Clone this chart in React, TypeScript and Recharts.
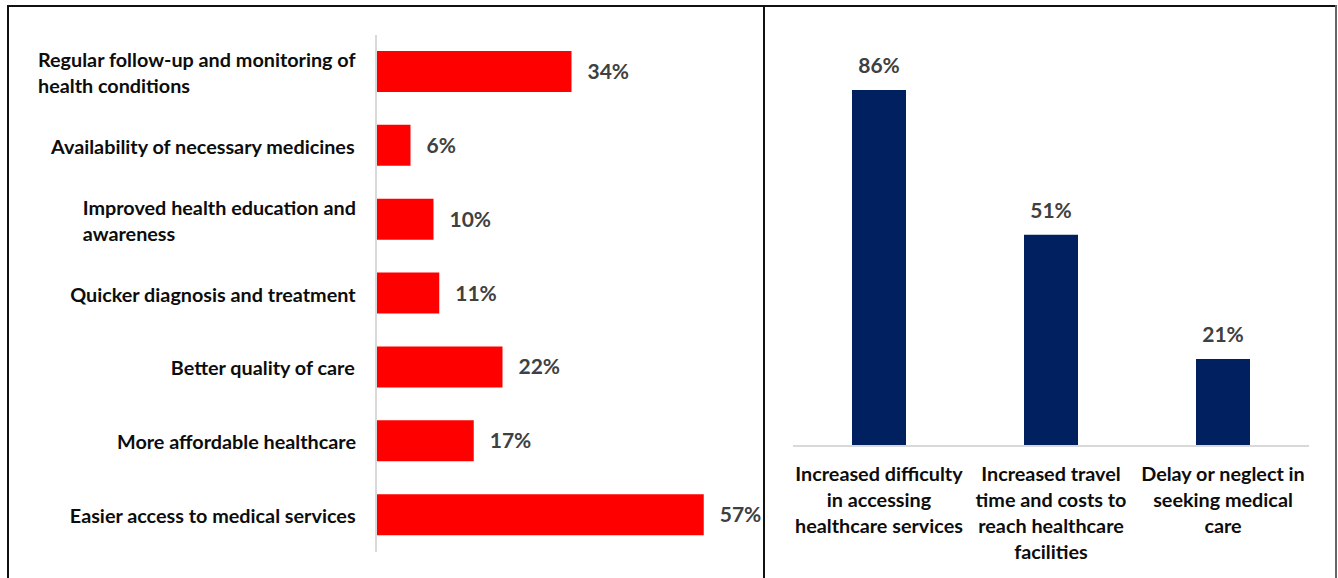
import { BarChart, Bar, XAxis, YAxis, LabelList } from "recharts";

const improvementLabels = [
  "Regular follow-up and monitoring of\nhealth conditions",
  "Availability of necessary medicines",
  "Improved health education and\nawareness",
  "Quicker diagnosis and treatment",
  "Better quality of care",
  "More affordable healthcare",
  "Easier access to medical services",
];
const improvementValues = [34, 6, 10, 11, 22, 17, 57];

const impactLabels = [
  "Increased difficulty\nin accessing\nhealthcare services",
  "Increased travel\ntime and costs to\nreach healthcare\nfacilities",
  "Delay or neglect in\nseeking medical\ncare",
];
const impactValues = [86, 51, 21];

const FONT = "Lato, 'Open Sans', sans-serif";
const LABEL_SIZE = 19.8;
const LABEL_FONT = `bold ${LABEL_SIZE}px Lato`;

const leftData = improvementLabels.map((name, i) => ({ name, value: improvementValues[i] }));
const rightData = impactLabels.map((name, i) => ({ name, value: impactValues[i] }));

let canvas: HTMLCanvasElement | null = null;
const measure = (s: string) => {
  if (!canvas) canvas = document.createElement("canvas");
  const ctx = canvas.getContext("2d")!;
  ctx.font = LABEL_FONT;
  return ctx.measureText(s).width;
};

const LeftTick = (props: any) => {
  const { x, y, payload } = props;
  const lines = String(payload.value).split("\n");
  const w = Math.max(...lines.map(measure));
  const lh = 26;
  const startY = y - ((lines.length - 1) * lh) / 2;
  const left = x - 12 - w;
  return (
    <text
      x={left}
      y={startY}
      textAnchor="start"
      dominantBaseline="central"
      fontFamily={FONT}
      fontWeight="bold"
      fontSize={LABEL_SIZE}
      fill="#0d0d0d"
    >
      {lines.map((l, i) => (
        <tspan key={i} x={left} y={startY + i * lh}>
          {l}
        </tspan>
      ))}
    </text>
  );
};

const BottomTick = (props: any) => {
  const { x, y, payload } = props;
  const lines = String(payload.value).split("\n");
  const lh = 26;
  return (
    <text
      x={x}
      y={y}
      textAnchor="middle"
      dominantBaseline="central"
      fontFamily={FONT}
      fontWeight="bold"
      fontSize={LABEL_SIZE}
      fill="#0d0d0d"
    >
      {lines.map((l, i) => (
        <tspan key={i} x={x} y={y + 19 + i * lh}>
          {l}
        </tspan>
      ))}
    </text>
  );
};

const pct = (v: any) => `${v}%`;

export default function App() {
  return (
    <div
      style={{
        position: "fixed",
        left: 0,
        top: 0,
        width: 1338,
        height: 578,
        background: "#fff",
        fontFamily: FONT,
      }}
    >
      {/* panel frame */}
      <div style={{ position: "absolute", left: 7, top: 5, width: 1329, height: 2, background: "#111" }} />
      <div style={{ position: "absolute", left: 7, top: 5, width: 2, height: 580, background: "#111" }} />
      <div style={{ position: "absolute", left: 763, top: 5, width: 2, height: 580, background: "#111" }} />
      <div style={{ position: "absolute", left: 1335, top: 5, width: 2, height: 580, background: "#666" }} />

      <div style={{ position: "absolute", left: 8, top: 0 }}>
        <BarChart
          width={755}
          height={578}
          data={leftData}
          layout="vertical"
          margin={{ top: 35, right: 42, bottom: 26, left: 0 }}
        >
          <XAxis type="number" domain={[0, 60]} hide />
          <YAxis
            type="category"
            dataKey="name"
            width={368}
            axisLine={{ stroke: "#d9d9d9", strokeWidth: 2 }}
            tickLine={false}
            tick={<LeftTick />}
            interval={0}
          />
          <Bar dataKey="value" fill="#ff0000" barSize={41} isAnimationActive={false}>
            <LabelList
              dataKey="value"
              position="right"
              offset={16}
              formatter={pct}
              fill="#404040"
              fontFamily={FONT}
              fontWeight="bold"
              fontSize={21}
            />
          </Bar>
        </BarChart>
      </div>

      <div style={{ position: "absolute", left: 765, top: 0 }}>
        <BarChart
          width={573}
          height={578}
          data={rightData}
          margin={{ top: 32, right: 29, bottom: 12, left: 28 }}
        >
          <YAxis type="number" domain={[0, 100]} hide />
          <XAxis
            dataKey="name"
            height={120}
            axisLine={{ stroke: "#d9d9d9", strokeWidth: 2 }}
            tickLine={false}
            tick={<BottomTick />}
            interval={0}
          />
          <Bar dataKey="value" fill="#002060" barSize={54} isAnimationActive={false}>
            <LabelList
              dataKey="value"
              position="top"
              offset={17}
              formatter={pct}
              fill="#404040"
              fontFamily={FONT}
              fontWeight="bold"
              fontSize={21}
            />
          </Bar>
        </BarChart>
      </div>
    </div>
  );
}
